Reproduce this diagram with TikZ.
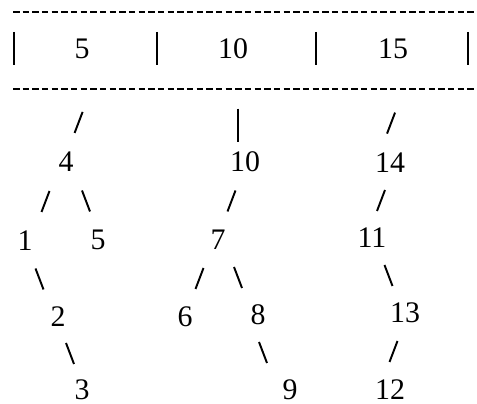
\documentclass[tikz,border=0pt]{standalone}
\usepackage{fontspec}
\setmainfont{Liberation Serif}
\usetikzlibrary{calc}

\begin{document}
\begin{tikzpicture}[x=0.02cm,y=-0.02cm,
  nudge/.store in=\nudge, nudge=0,
  num/.style={font=\fontsize{17}{20}\selectfont,inner sep=1pt},
  dashrule/.style={line width=0.9pt,dash pattern=on 3.7pt off 1.8pt},
  cellbar/.style={line width=1.2pt},
  fwd/.style={line width=1.1pt,to path={($(\tikztostart)!#1!(\tikztotarget)+(\nudge,0)$) ++(-4,10.5) -- ++(8,-21)}},
  fwd/.default=.5,
  bck/.style={line width=1.1pt,to path={($(\tikztostart)!#1!(\tikztotarget)+(\nudge,0)$) ++(-4,-10.5) -- ++(8,21)}},
  bck/.default=.5,
  vstroke/.style={line width=1.1pt,to path={($(\tikztostart)!#1!(\tikztotarget)+(\nudge,0)$) ++(0,-16) -- ++(0,33)}},
  vstroke/.default=.5
]
  \useasboundingbox (0,0) rectangle (477,404);
  % Array of keys
  \draw[dashrule] (13,12) -- (477,12);
  \draw[dashrule] (13,89) -- (477,89);
  \foreach \x in {14,157,316,468}
    \draw[cellbar] (\x,32) -- (\x,65);
  \node[num] (c5) at (82,49) {5};
  \node[num] (c10) at (233,49) {10};
  \node[num] (c15) at (393,49) {15};
  % First tree
  \node[num] (n4) at (66,162) {4};
  \node[num] (n1) at (25,241) {1};
  \node[num] (n5) at (98,240) {5};
  \node[num] (n2) at (58,317) {2};
  \node[num] (n3) at (82,390) {3};
  % Second tree
  \node[num] (n10) at (245,162) {10};
  \node[num] (n7) at (218,240) {7};
  \node[num] (n6) at (185,317) {6};
  \node[num] (n8) at (258,315) {8};
  \node[num] (n9) at (290,390) {9};
  % Third tree
  \node[num] (n14) at (390,163) {14};
  \node[num] (n11) at (372,238) {11};
  \node[num] (n13) at (405,313) {13};
  \node[num] (n12) at (390,390) {12};
  % Links
  \draw[fwd=.65,nudge=7] (c5) to (n4);
  \draw[fwd] (n4) to (n1);
  \draw[bck,nudge=4] (n4) to (n5);
  \draw[bck,nudge=-2] (n1) to (n2);
  \draw[bck] (n2) to (n3);
  \draw[vstroke=.67,nudge=-3] (c10) to (n10);
  \draw[fwd] (n10) to (n7);
  \draw[fwd,nudge=-2] (n7) to (n6);
  \draw[bck] (n7) to (n8);
  \draw[bck,nudge=-11] (n8) to (n9);
  \draw[fwd=.65] (c15) to (n14);
  \draw[fwd] (n14) to (n11);
  \draw[bck] (n11) to (n13);
  \draw[fwd,nudge=-4] (n13) to (n12);
\end{tikzpicture}
\end{document}
